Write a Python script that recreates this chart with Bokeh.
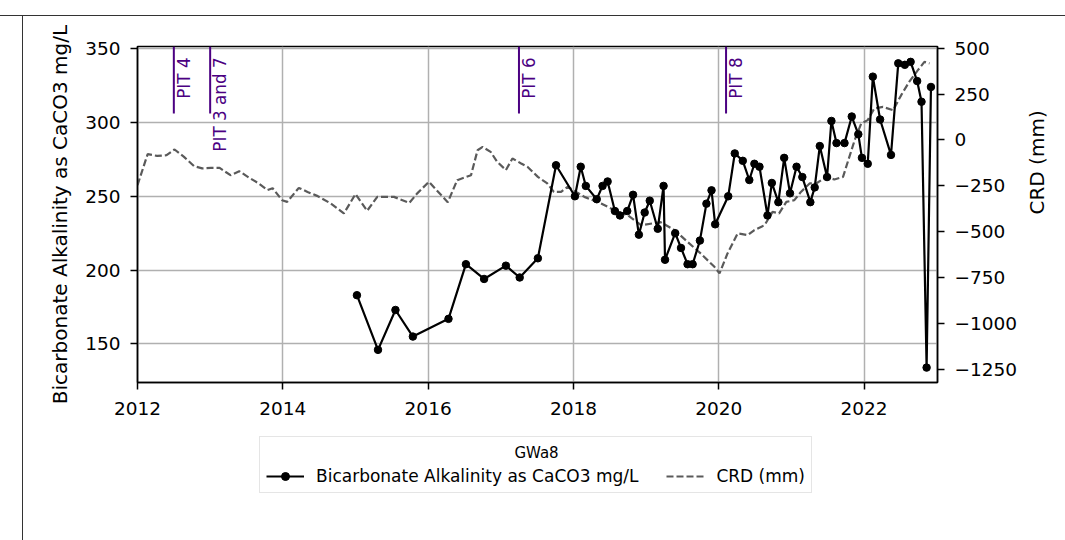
import math
from bokeh.plotting import figure
from bokeh.layouts import column
from bokeh.models import Range1d, LinearAxis, FixedTicker, Legend, LegendItem, Label, Div
from bokeh.core.properties import value
from bokeh.embed import file_html
from bokeh.resources import INLINE

# ---------------- data ----------------
alk_year = [2015.02, 2015.31, 2015.55, 2015.79, 2016.28, 2016.52, 2016.77, 2017.07, 2017.26, 2017.51,
            2017.76, 2018.02, 2018.10, 2018.17, 2018.32, 2018.40, 2018.47, 2018.57, 2018.64, 2018.74,
            2018.82, 2018.90, 2018.98, 2019.05, 2019.16, 2019.24, 2019.26, 2019.40, 2019.48, 2019.57,
            2019.64, 2019.74, 2019.83, 2019.90, 2019.95, 2020.13, 2020.22, 2020.33, 2020.42, 2020.49,
            2020.56, 2020.67, 2020.73, 2020.82, 2020.90, 2020.98, 2021.07, 2021.15, 2021.26, 2021.32,
            2021.39, 2021.49, 2021.55, 2021.62, 2021.73, 2021.83, 2021.92, 2021.97, 2022.05, 2022.12,
            2022.22, 2022.37, 2022.47, 2022.56, 2022.64, 2022.73, 2022.79, 2022.86, 2022.92]
alk_value = [183, 146, 173, 155, 167, 204, 194, 203, 195, 208,
             271, 250, 270, 257, 248, 257, 260, 240, 237, 240,
             251, 224, 239, 247, 228, 257, 207, 225, 215, 204,
             204, 220, 245, 254, 231, 250, 279, 274, 261, 272,
             270, 237, 259, 246, 276, 252, 270, 263, 246, 256,
             284, 263, 301, 286, 286, 304, 292, 276, 272, 331,
             302, 278, 340, 339, 341, 328, 314, 134, 324]

crd_year = [2012.00, 2012.14, 2012.27, 2012.40, 2012.51, 2012.64, 2012.78, 2012.89, 2013.01, 2013.13,
            2013.28, 2013.40, 2013.53, 2013.67, 2013.79, 2013.86, 2013.99, 2014.06, 2014.22, 2014.34,
            2014.48, 2014.66, 2014.84, 2015.00, 2015.16, 2015.30, 2015.53, 2015.74, 2015.85, 2016.01,
            2016.27, 2016.40, 2016.59, 2016.68, 2016.75, 2016.86, 2016.95, 2017.07, 2017.16, 2017.28,
            2017.37, 2017.51, 2017.64, 2017.73, 2017.83, 2017.92, 2018.15, 2018.38, 2018.61, 2018.75,
            2018.93, 2019.20, 2019.39, 2019.57, 2019.75, 2019.94, 2020.01, 2020.12, 2020.26, 2020.40,
            2020.49, 2020.63, 2020.74, 2020.83, 2020.93, 2021.04, 2021.13, 2021.25, 2021.34, 2021.48,
            2021.59, 2021.71, 2021.87, 2021.96, 2022.05, 2022.14, 2022.26, 2022.40, 2022.51, 2022.62,
            2022.74, 2022.83, 2022.90]
crd_value = [-246, -77, -87, -83, -52, -92, -143, -155, -152, -152,
             -192, -170, -204, -237, -273, -263, -328, -337, -261, -283,
             -306, -346, -400, -295, -386, -310, -310, -343, -291, -228,
             -339, -219, -192, -56, -38, -65, -119, -164, -101, -128,
             -147, -201, -237, -283, -283, -255, -310, -346, -392, -410,
             -464, -448, -491, -555, -618, -691, -727, -618, -509, -518,
             -491, -464, -392, -400, -337, -328, -283, -237, -237, -201,
             -215, -201, -1, 90, 108, 172, 180, 162, 244, 316,
             380, 425, 417]

pit_year = [2012.5, 2013.0, 2017.25, 2020.1]
pit_label = ["PIT 4", "PIT 3 and 7", "PIT 6", "PIT 8"]

x_ticks = [2012, 2014, 2016, 2018, 2020, 2022]
left_ticks = [150, 200, 250, 300, 350]
right_ticks = [500, 250, 0, -250, -500, -750, -1000, -1250]

series_label = "Bicarbonate Alkalinity as CaCO3 mg/L"
crd_label = "CRD (mm)"
legend_title = "GWa8"

# ---------------- styling ----------------
FONT = "DejaVu Sans"
TICK_SIZE = "18.5px"
LABEL_SIZE = "20px"
PURPLE = "#4B0082"
CRD_COLOR = "#5a5a5a"
ALK_STYLE = dict(line_color="black", line_width=2.2)
CRD_STYLE = dict(line_color=CRD_COLOR, line_width=2.2, line_dash="7 3")
PT_STYLE = dict(size=7.5, marker="circle", fill_color="black", line_color="black")

W = 1064
X0, X1 = 2012.0, 2023.01
p = figure(width=W, height=430,
           x_range=Range1d(X0, X1), y_range=Range1d(123.9, 351.4),
           output_backend="svg", toolbar_location=None,
           min_border_left=137, min_border_right=127, min_border_top=46, min_border_bottom=48)
p.extra_y_ranges = {"crd": Range1d(-1321, 509)}

p.outline_line_color = "black"
p.outline_line_width = 1.5
p.background_fill_color = "white"
p.border_fill_color = "white"

p.xgrid.grid_line_color = "#b0b0b0"
p.xgrid.grid_line_width = 1.5
p.ygrid.grid_line_color = "#b0b0b0"
p.ygrid.grid_line_width = 1.5

def style_axis(ax, size=TICK_SIZE):
    ax.axis_line_color = "black"
    ax.axis_line_width = 1.5
    ax.major_tick_line_color = "black"
    ax.major_tick_line_width = 1.5
    ax.major_tick_out = 7
    ax.major_tick_in = 0
    ax.minor_tick_line_color = None
    ax.major_label_text_font = FONT
    ax.major_label_text_font_size = size
    ax.major_label_text_color = "black"
    ax.axis_label_text_font = FONT
    ax.axis_label_text_font_size = LABEL_SIZE
    ax.axis_label_text_font_style = "normal"
    ax.axis_label_text_color = "black"

xa = p.xaxis[0]
style_axis(xa)
xa.ticker = FixedTicker(ticks=x_ticks)
xa.major_label_standoff = 12

ya = p.yaxis[0]
style_axis(ya)
ya.ticker = FixedTicker(ticks=left_ticks)
ya.axis_label = series_label
ya.major_label_standoff = 10
ya.axis_label_standoff = 10

ra = LinearAxis(y_range_name="crd")
style_axis(ra)
ra.ticker = FixedTicker(ticks=right_ticks)
ra.major_label_overrides = {v: ("\u2212" + str(-v) if v < 0 else str(v)) for v in right_ticks}
ra.axis_label = crd_label
ra.major_label_standoff = 10
ra.axis_label_standoff = 17
if "axis_label_orientation" in LinearAxis.properties():
    ra.axis_label_orientation = math.pi / 2
p.add_layout(ra, "right")

# CRD dashed line
p.line(crd_year, crd_value, y_range_name="crd", **CRD_STYLE)

# Alkalinity series
p.line(alk_year, alk_value, **ALK_STYLE)
p.scatter(alk_year, alk_value, **PT_STYLE)

# PIT markers
p.segment(x0=pit_year, y0=[306] * len(pit_year), x1=pit_year, y1=[351.4] * len(pit_year),
          line_color=PURPLE, line_width=2)
p.text(x=pit_year, y=[344] * len(pit_year), text=pit_label, angle=math.pi / 2,
       text_align="right", text_baseline="top", text_color=PURPLE,
       text_font=value(FONT), text_font_size="16.8px", x_offset=0)

# ---------------- legend strip below the chart ----------------
# this strip's frame lines up with the chart's frame (page x 137..937); ranges are in page pixels
H2 = 105
q = figure(width=W, height=H2, x_range=Range1d(137, 937), y_range=Range1d(0, H2),
           x_axis_type=None, y_axis_type=None, output_backend="svg",
           toolbar_location=None, min_border_left=137, min_border_right=127,
           min_border_top=0, min_border_bottom=0)
q.outline_line_color = None
q.xgrid.visible = False
q.ygrid.visible = False
q.background_fill_color = "white"
q.border_fill_color = "white"

# renderers used only for the legend swatches (data lies outside this strip's view)
lg_alk = q.line(alk_year, alk_value, **ALK_STYLE)
lg_pts = q.scatter(alk_year, alk_value, **PT_STYLE)
lg_crd = q.line(crd_year, crd_value, **CRD_STYLE)

legend = Legend(items=[LegendItem(label=series_label, renderers=[lg_alk, lg_pts]),
                       LegendItem(label=crd_label, renderers=[lg_crd])],
                orientation="horizontal", location=(122, 42))
legend.title = " "
legend.title_text_font = FONT
legend.title_text_font_size = "15px"
legend.title_text_font_style = "normal"
legend.title_standoff = 5
legend.label_text_font = FONT
legend.label_text_font_size = "17px"
legend.label_text_color = "black"
legend.glyph_width = 38
legend.glyph_height = 20
legend.label_height = 20
legend.label_standoff = 12
legend.spacing = 28
legend.padding = 6
legend.margin = 0
legend.border_line_color = "#cccccc"
legend.border_line_width = 1.2
legend.background_fill_color = None
q.add_layout(legend)

q.add_layout(Label(x=536, y=83, text=legend_title, text_align="center",
                   text_baseline="middle", text_font=FONT, text_font_size="15px",
                   text_color="black"))

deco = Div(width=1, height=1, text=(
    '<div style="position:fixed;left:0;top:15px;width:1065px;height:1px;background:#333"></div>'
    '<div style="position:fixed;left:22px;top:15px;width:1px;height:530px;background:#333"></div>'))

layout = column(p, q, deco, spacing=0)
open("out.html", "w").write(file_html(layout, INLINE))
